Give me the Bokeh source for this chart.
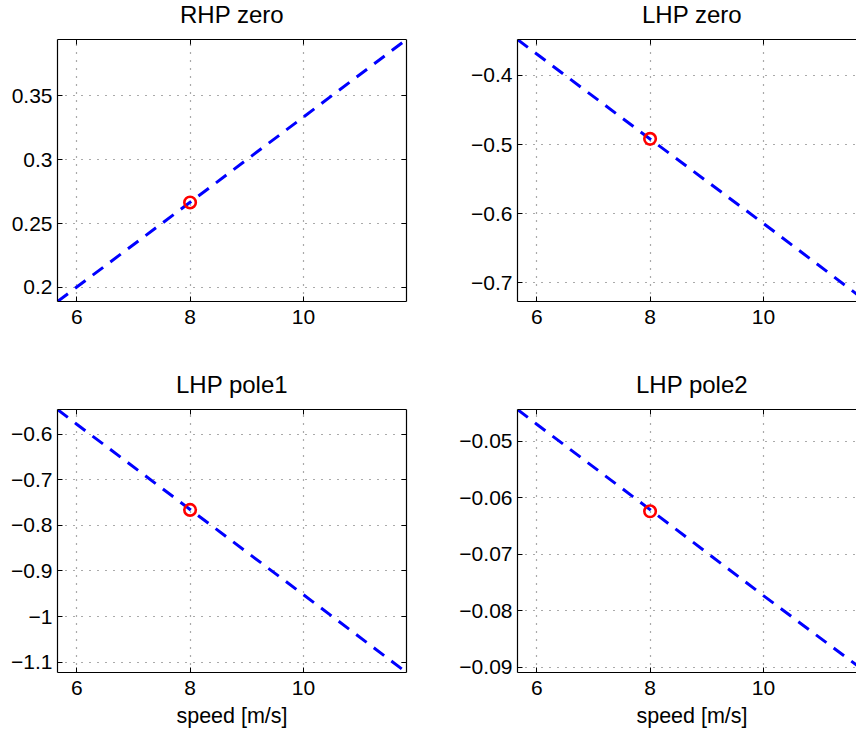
from bokeh.plotting import figure
from bokeh.models import Range1d, FixedTicker, LinearAxis, Title
from bokeh.layouts import column, row
from bokeh.embed import file_html
from bokeh.resources import INLINE

# ---- data ----
speed = [5.66, 6.0, 8.0, 10.0, 11.82]
speed_op = [8.0]

rhp_zero = [0.189, 0.2003, 0.2666, 0.3333, 0.394]
lhp_zero = [-0.348, -0.369, -0.492, -0.614, -0.727]
lhp_pole1 = [-0.5457, -0.578, -0.765, -0.952, -1.1228]
lhp_pole2 = [-0.0444, -0.0470, -0.0621, -0.0773, -0.0909]

rhp_zero_op = [0.2665]
lhp_zero_op = [-0.4917]
lhp_pole1_op = [-0.766]
lhp_pole2_op = [-0.0624]

x_ticks = [6, 8, 10]
x_tick_labels = ["6", "8", "10"]

rhp_zero_ticks = [0.2, 0.25, 0.3, 0.35]
rhp_zero_labels = ["0.2", "0.25", "0.3", "0.35"]
lhp_zero_ticks = [-0.7, -0.6, -0.5, -0.4]
lhp_zero_labels = ["\u22120.7", "\u22120.6", "\u22120.5", "\u22120.4"]
lhp_pole1_ticks = [-1.1, -1.0, -0.9, -0.8, -0.7, -0.6]
lhp_pole1_labels = ["\u22121.1", "\u22121", "\u22120.9", "\u22120.8", "\u22120.7", "\u22120.6"]
lhp_pole2_ticks = [-0.09, -0.08, -0.07, -0.06, -0.05]
lhp_pole2_labels = ["\u22120.09", "\u22120.08", "\u22120.07", "\u22120.06", "\u22120.05"]

titles = ["RHP zero", "LHP zero", "LHP pole1", "LHP pole2"]
x_label = "speed [m/s]"

FONT = "Liberation Sans"
TICK_FS = 21
TITLE_FS = 24
LABEL_FS = 21.5

FULL_FRAME_W = 349

# approximate Arial/Liberation Sans advance widths (em) for centering text
CHAR_W = {"L": .556, "H": .722, "P": .667, "R": .722, " ": .278, "z": .5,
          "e": .556, "r": .333, "o": .556, "p": .556, "l": .222, "1": .556,
          "2": .556, "s": .5, "d": .556, "[": .278, "m": .833, "/": .278,
          "]": .278}


def text_w(t, fs):
    return sum(CHAR_W.get(c, .556) for c in t) * fs


def style_axis(ax, ticks, labels, show_labels=True):
    ax.ticker = FixedTicker(ticks=ticks, minor_ticks=[])
    if show_labels:
        ax.major_label_overrides = {t: l for t, l in zip(ticks, labels)}
    else:
        ax.major_label_overrides = {t: "" for t in ticks}
    ax.major_tick_in = 5
    ax.major_tick_out = 0
    ax.minor_tick_line_color = None
    ax.major_tick_line_color = "black"
    ax.major_tick_line_width = 1
    ax.axis_line_color = "black"
    ax.axis_line_width = 1.2
    ax.major_label_text_font = FONT
    ax.major_label_text_font_size = f"{TICK_FS}px"
    ax.major_label_text_color = "black"


def make_panel(y, y_op, yticks, ylabels, title, left_col, bottom_row):
    width = 428
    height = 364 if bottom_row else 370
    mbl = 57 if left_col else 89
    mbr = 22 if left_col else 0
    mbt = 39
    mbb = 62 if bottom_row else 69
    frame_w = width - mbl - mbr
    x_lo, x_hi = min(speed), max(speed)
    x_end = x_lo + (x_hi - x_lo) * frame_w / FULL_FRAME_W
    p = figure(width=width, height=height, output_backend="svg",
               toolbar_location=None,
               x_range=Range1d(x_lo, x_end),
               y_range=Range1d(min(y), max(y)),
               min_border_left=mbl, min_border_right=mbr,
               min_border_top=mbt, min_border_bottom=mbb,
               background_fill_color="white", border_fill_color="white")
    p.outline_line_color = None
    style_axis(p.xaxis[0], x_ticks, x_tick_labels)
    style_axis(p.yaxis[0], yticks, ylabels)
    p.xaxis[0].major_label_standoff = 8
    p.yaxis[0].major_label_standoff = 5

    # top frame edge with inward ticks
    top = LinearAxis()
    style_axis(top, x_ticks, x_tick_labels, show_labels=False)
    p.add_layout(top, "above")
    # invisible spacer between frame and title
    spacer = LinearAxis()
    style_axis(spacer, x_ticks, x_tick_labels, show_labels=False)
    spacer.major_tick_in = 0
    spacer.major_tick_out = 10
    spacer.major_tick_line_color = None
    spacer.axis_line_color = None
    p.add_layout(spacer, "above")
    if left_col:
        rgt = LinearAxis()
        style_axis(rgt, yticks, ylabels, show_labels=False)
        p.add_layout(rgt, "right")

    for g in (p.xgrid[0], p.ygrid[0]):
        g.grid_line_color = "#555555"
        g.grid_line_width = 1.2
        g.grid_line_dash = "1 7"
    p.xgrid[0].ticker = FixedTicker(ticks=x_ticks)
    p.ygrid[0].ticker = FixedTicker(ticks=yticks)

    p.line(speed, y, line_color="#0000ff", line_width=3, line_dash="13 9")
    p.scatter(speed_op, y_op, marker="circle", size=11.5, fill_color=None,
              line_color="#ff0000", line_width=2.6)

    t = Title(text=title, align="left", vertical_align="top",
              offset=FULL_FRAME_W / 2 - text_w(title, TITLE_FS) / 2,
              text_font=FONT, text_font_size=f"{TITLE_FS}px",
              text_font_style="normal", text_color="black", standoff=0)
    p.add_layout(t, "above")
    if bottom_row:
        xl = Title(text=x_label, align="left",
                   offset=FULL_FRAME_W / 2 - text_w(x_label, LABEL_FS) / 2,
                   text_font=FONT, text_font_size=f"{LABEL_FS}px",
                   text_font_style="normal", text_color="black", standoff=8)
        p.add_layout(xl, "below")
    return p


p1 = make_panel(rhp_zero, rhp_zero_op, rhp_zero_ticks, rhp_zero_labels, titles[0], True, False)
p2 = make_panel(lhp_zero, lhp_zero_op, lhp_zero_ticks, lhp_zero_labels, titles[1], False, False)
p3 = make_panel(lhp_pole1, lhp_pole1_op, lhp_pole1_ticks, lhp_pole1_labels, titles[2], True, True)
p4 = make_panel(lhp_pole2, lhp_pole2_op, lhp_pole2_ticks, lhp_pole2_labels, titles[3], False, True)

layout = column(row(p1, p2), row(p3, p4))
open("out.html", "w").write(file_html(layout, INLINE))
